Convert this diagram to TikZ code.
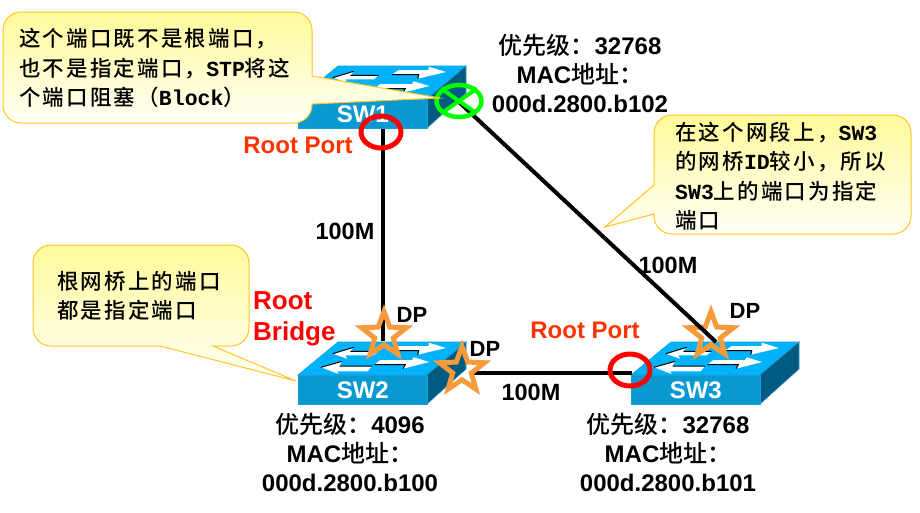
\documentclass[tikz,border=0pt]{standalone}
\usepackage{fontspec}
\usepackage{xcolor}
\usepackage{tikz}
\usetikzlibrary{shapes.geometric}
\setmainfont{Liberation Sans}
\newfontfamily\cjkfont[BoldFont={Noto Sans CJK SC Medium}]{Noto Sans CJK SC}
\newfontfamily\tipcjk[LetterSpace=10]{Noto Sans CJK SC Medium}
\newfontfamily\tipmono{Liberation Mono Bold}
\definecolor{swfrontc}{HTML}{0899D1}
\definecolor{swtopc}{HTML}{00B2FA}
\definecolor{swsidec}{HTML}{005B82}
\definecolor{starc}{HTML}{F79A3C}
\definecolor{tipline}{HTML}{FFC425}
\definecolor{tiptop}{HTML}{FFFA9A}
\definecolor{tipbot}{HTML}{FFFFF6}
\definecolor{rootport}{HTML}{FF3300}

\begin{document}
\begin{tikzpicture}[
    x=1pt, y=-1pt,
    link/.style={line width=4pt},
    dpstar/.style={draw=starc, line width=5pt, star, star points=5, star point ratio=2.4, inner sep=0pt, minimum size=47pt},
    rpmark/.style={draw=red, line width=5pt, ellipse, inner sep=0pt, minimum width=40pt, minimum height=32pt},
    blockmark/.style={draw=green, line width=4.5pt, ellipse, inner sep=0pt, minimum width=45pt, minimum height=32pt},
    tipbox/.style={draw=tipline, line width=1pt, top color=tiptop, bottom color=tipbot},
    tiptext/.style={anchor=west, align=left, inner sep=0pt, font=\fontsize{21.5}{29.5}\selectfont\tipcjk},
    info/.style={align=center, inner sep=0pt, font=\fontsize{24}{29}\selectfont\bfseries},
    speed/.style={inner sep=0pt, font=\fontsize{23.5}{28}\selectfont\bfseries},
    dplabel/.style={inner sep=0pt, font=\fontsize{22}{26}\selectfont\bfseries},
    rplabel/.style={inner sep=0pt, text=rootport, font=\fontsize{24}{28}\selectfont\bfseries},
    rblabel/.style={inner sep=0pt, align=left, text=red, font=\fontsize{26}{31}\selectfont\bfseries},
    swfront/.style={fill=swfrontc, draw=cyan!60!swfrontc, line width=0.6pt, anchor=north west, inner sep=0pt, minimum width=129pt, minimum height=29pt, text=white, font=\fontsize{24}{28}\selectfont\bfseries},
    swedge/.style={black, line width=1pt},
    netswitch/.pic={
      \filldraw[fill=swtopc, draw=cyan!70!swtopc, line width=0.6pt] (0,0) -- (40,-33) -- (168,-33) -- (129,0) -- cycle;
      \filldraw[fill=swsidec, draw=cyan!50!swsidec, line width=0.6pt] (129,0) -- (168,-33) -- (168,-6) -- (129,29) -- cycle;
      \node[swfront] (-front) at (0,0) {#1};
      \fill[white] (34.7,-21.3) -- (55.7,-27.7) -- (52.3,-23.7) -- (80.7,-23.7) -- (75.7,-19.7) -- (47.3,-19.7) -- (49,-16.3) -- cycle;
      \draw[swedge] (34.7,-21.3) -- (55.7,-27.7) (52.3,-23.7) -- (80.7,-23.7);
      \fill[white] (148,-27) -- (130.7,-32.3) -- (130.7,-29) -- (100.7,-29) -- (94,-24.3) -- (120.7,-24.3) -- (119.7,-20.3) -- cycle;
      \draw[swedge] (119.7,-20.3) -- (120.7,-24.3) -- (94,-24.3);
      \fill[white] (23,-7.7) -- (44,-13.7) -- (41.7,-9) -- (74,-9) -- (69.7,-3.7) -- (39,-3.7) -- (40.7,-1) -- cycle;
      \draw[swedge] (23,-7.7) -- (44,-13.7) (41.7,-9) -- (74,-9);
      \fill[white] (131.3,-13) -- (115.7,-17.7) -- (114,-15) -- (82.3,-15) -- (76.3,-10.3) -- (107.3,-10.3) -- (105,-6.3) -- cycle;
      \draw[swedge] (105,-6.3) -- (107.3,-10.3) -- (76.3,-10.3);
    }
  ]
    \useasboundingbox (0,0) rectangle (920,512);

    \pic (sw1) at (298,99) {netswitch=SW1};
    \pic (sw2) at (298,375) {netswitch=SW2};
    \pic (sw3) at (631,375) {netswitch=SW3};

    \coordinate (sw1down) at (383,129);
    \coordinate (sw1right) at (459,102);
    \coordinate (sw2up) at (383,341);
    \coordinate (sw2right) at (472,373);
    \coordinate (sw3left) at (632,373);
    \coordinate (sw3up) at (716,342);

    \draw[link] (sw1down) -- (sw2up);
    \node[dpstar] (dpa) at (384,335) {};
    \draw[link] (sw2right) -- (sw3left);
    \node[dpstar] (dpb) at (462,370) {};
    \node[dpstar] (dpc) at (711,335) {};
    \draw[link] (sw1right) -- (sw3up);

    \node[rpmark] (rpa) at (381,132) {};
    \node[rpmark] (rpb) at (630,370) {};
    \node[blockmark] (block) at (459,101) {};
    \draw[green, line width=4pt] (block.145) -- (block.-35);
    \draw[green, line width=4pt] (block.35) -- (block.-145);

    \node[rplabel] (rptexta) at (298,145) {Root Port};
    \node[rplabel] (rptextb) at (585,330) {Root Port};
    \node[rblabel, anchor=west] (rbtext) at (253,319) {Root\\Bridge};
    \node[speed] (speeda) at (345,231) {100M};
    \node[speed] (speedb) at (668,265) {100M};
    \node[speed] (speedc) at (531,392) {100M};
    \node[dplabel] (dptexta) at (412,315) {DP};
    \node[dplabel] (dptextb) at (485,349) {DP};
    \node[dplabel] (dptextc) at (745,311) {DP};

    \node[info] (infoa) at (580,73) {{\cjkfont 优先级：}32768\\MAC{\cjkfont 地址：}\\000d.2800.b102};
    \node[info] (infob) at (350,452) {{\cjkfont 优先级：}4096\\MAC{\cjkfont 地址：}\\000d.2800.b100};
    \node[info] (infoc) at (668,452) {{\cjkfont 优先级：}32768\\MAC{\cjkfont 地址：}\\000d.2800.b101};

    \draw[tipbox] (312,76) -- (440,98) -- (312,104) [rounded corners=18pt] -- (312,123) -- (3,123) -- (3,12) -- (312,12) [sharp corners] -- cycle;
    \node[tiptext] (tipa) at (19,68) {这个端口既不是根端口，\\也不是指定端口，{\tipmono STP}将这\\个端口阻塞（{\tipmono Block}）};

    \draw[tipbox] (654,185) -- (605,227) -- (654,214) [rounded corners=18pt] -- (654,234) -- (911,234) -- (911,115) -- (654,115) [sharp corners] -- cycle;
    \node[tiptext] (tipb) at (675,176) {在这个网段上，{\tipmono SW3}\\的网桥{\tipmono ID}较小，所以\\{\tipmono SW3}上的端口为指定\\端口};

    \draw[tipbox] (160,346) -- (296,381) -- (213,346) [rounded corners=18pt] -- (249,346) -- (249,245) -- (33,245) -- (33,346) [sharp corners] -- cycle;
    \node[tiptext] (tipc) at (57,296) {根网桥上的端口\\都是指定端口};
  \end{tikzpicture}
\end{document}
